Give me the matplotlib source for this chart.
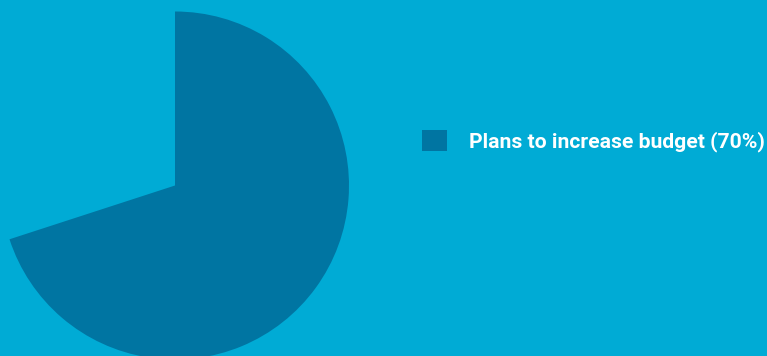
import matplotlib
matplotlib.use("Agg")
import matplotlib.pyplot as plt
from matplotlib.patches import Patch

categories = ["Plans to increase budget (70%)", "Other"]
values = [70, 30]

BG = "#00ABD5"
DARK = "#0075A2"

W, H = 767, 356
fig = plt.figure(figsize=(W / 100, H / 100), dpi=100, facecolor=BG)
ax = fig.add_axes([0, 0, 1, 1])
ax.set_facecolor(BG)

ax.pie(values, colors=[DARK, "none"], startangle=90, counterclock=False,
       center=(175, H - 185.5), radius=174, frame=True,
       wedgeprops=dict(linewidth=0))
ax.set_xlim(0, W)
ax.set_ylim(0, H)
ax.set_aspect("equal")
ax.axis("off")

handles = [Patch(facecolor=DARK, edgecolor="none")]
fs = 15.2
leg = ax.legend(handles, [categories[0]], loc="center left",
                bbox_to_anchor=(422 / W, (H - 141) / H),
                frameon=False, borderpad=0, borderaxespad=0,
                handlelength=1.19, handleheight=1.19, handletextpad=1.05,
                prop=dict(family="Roboto", weight="bold", size=fs))
for t in leg.get_texts():
    t.set_color("white")

fig.savefig("out.png", dpi=100, facecolor=BG)
